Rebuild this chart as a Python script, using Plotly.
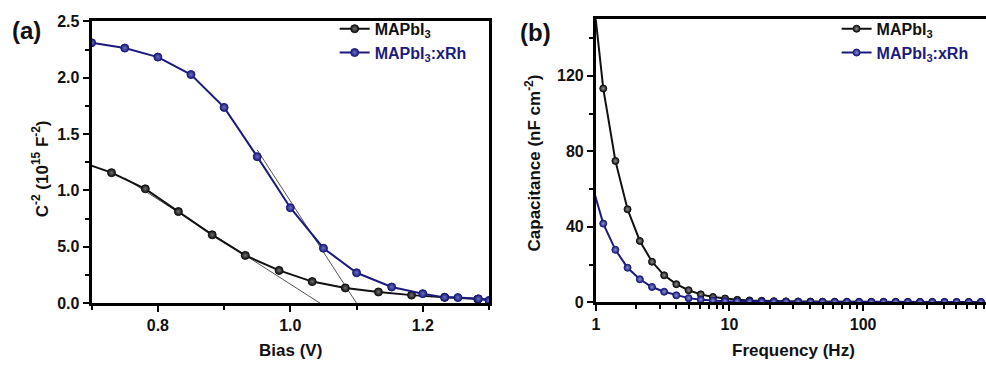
import plotly.graph_objects as go

# ---------------- data: panel (a) Mott-Schottky ----------------
bias_pristine = [0.680, 0.730, 0.781, 0.831, 0.882, 0.932, 0.983, 1.033, 1.083, 1.133, 1.183, 1.233, 1.283, 1.333]
c2_pristine = [1.26, 1.158, 1.015, 0.813, 0.607, 0.424, 0.291, 0.192, 0.136, 0.100, 0.072, 0.052, 0.036, 0.026]

bias_rh = [0.70, 0.75, 0.80, 0.85, 0.90, 0.95, 1.00, 1.05, 1.10, 1.153, 1.20, 1.233, 1.253, 1.284, 1.30]
c2_rh = [2.31, 2.263, 2.183, 2.028, 1.737, 1.300, 0.847, 0.488, 0.270, 0.144, 0.085, 0.052, 0.050, 0.039, 0.025]

# tangent (linear fit) lines
tan_pristine_x = [0.75, 1.045]
tan_pristine_y = [1.11, 0.0]
tan_rh_x = [0.95, 1.10]
tan_rh_y = [1.36, 0.0]

a_yticks = [0, 0.5, 1.0, 1.5, 2.0, 2.5]
a_yticktext = ["0.0", "5.0", "1.0", "1.5", "2.0", "2.5"]

# ---------------- data: panel (b) capacitance vs frequency ----------------
freq = [0.92, 1.135, 1.400, 1.726, 2.133, 2.630, 3.243, 4.000, 4.943, 6.095, 7.516, 9.268,
        11.43, 14.13, 17.42, 21.48, 26.49, 32.66, 40.36, 49.77, 61.38, 75.68, 93.33,
        115.3, 142.2, 175.4, 216.3, 266.7, 329.6, 406.4, 501.2, 618.0, 762.1]
cap_pristine = [173, 113.3, 74.9, 49.3, 32.5, 21.5, 14.3, 9.6, 6.4, 4.2, 2.8, 2.0,
                1.3, 1.0, 0.8, 0.6, 0.5, 0.45, 0.4, 0.35, 0.32, 0.3, 0.28,
                0.26, 0.25, 0.24, 0.23, 0.22, 0.21, 0.2, 0.2, 0.19, 0.18]
cap_rh = [64, 41.7, 27.8, 18.3, 12.2, 8.1, 5.6, 3.7, 2.2, 1.4, 0.9, 0.6,
          0.45, 0.35, 0.3, 0.25, 0.22, 0.2, 0.18, 0.17, 0.16, 0.15, 0.14,
          0.13, 0.12, 0.12, 0.11, 0.11, 0.1, 0.1, 0.1, 0.1, 0.1]

b_yticks = [0, 40, 80, 120]
b_xticks = [1, 10, 100]
b_xminor = [2, 3, 4, 5, 6, 7, 8, 9, 20, 30, 40, 50, 60, 70, 80, 90, 200, 300, 400, 500, 600, 700, 800, 900]

# ---------------- style ----------------
W, H = 986, 374
FONT = "Liberation Sans, Arial, sans-serif"
BLACK = "#111111"
NAVY = "#1b1b7e"
GREY = "#555555"


def px_x(p):
    return p / W


def px_y(p):
    return 1 - p / H


def marker(col, hi, size):
    return dict(symbol="circle", size=size, color=col,
                line=dict(color=col, width=1),
                gradient=dict(type="radial", color=hi))


fig = go.Figure()

# tangents (under data)
fig.add_trace(go.Scatter(x=tan_pristine_x, y=tan_pristine_y, mode="lines",
                         line=dict(color=GREY, width=1), showlegend=False,
                         xaxis="x", yaxis="y"))
fig.add_trace(go.Scatter(x=tan_rh_x, y=tan_rh_y, mode="lines",
                         line=dict(color=GREY, width=1), showlegend=False,
                         xaxis="x", yaxis="y"))

# panel (a)
fig.add_trace(go.Scatter(x=bias_pristine, y=c2_pristine, mode="lines+markers",
                         name="MAPbI<sub>3</sub>",
                         line=dict(color=BLACK, width=2), marker=marker(BLACK, "#707070", 8),
                         xaxis="x", yaxis="y", legend="legend"))
fig.add_trace(go.Scatter(x=bias_rh, y=c2_rh, mode="lines+markers",
                         name="<span style='color:%s'>MAPbI<sub>3</sub>:xRh</span>" % NAVY,
                         line=dict(color=NAVY, width=2), marker=marker(NAVY, "#6a70c0", 8),
                         xaxis="x", yaxis="y", legend="legend"))

# panel (b)
fig.add_trace(go.Scatter(x=freq, y=cap_pristine, mode="lines+markers",
                         name="MAPbI<sub>3</sub>",
                         line=dict(color=BLACK, width=2), marker=marker(BLACK, "#909090", 7),
                         xaxis="x2", yaxis="y2", legend="legend2"))
fig.add_trace(go.Scatter(x=freq, y=cap_rh, mode="lines+markers",
                         name="<span style='color:%s'>MAPbI<sub>3</sub>:xRh</span>" % NAVY,
                         line=dict(color=NAVY, width=2), marker=marker(NAVY, "#8a90d0", 7),
                         xaxis="x2", yaxis="y2", legend="legend2"))

tickfont = dict(family=FONT, size=16, color=BLACK, weight="bold")
axis_common = dict(showline=True, linecolor="black", linewidth=3, ticks="outside",
                   ticklen=6, tickwidth=2, tickcolor="black", showgrid=False,
                   zeroline=False, tickfont=tickfont)

fig.update_layout(
    width=W, height=H,
    margin=dict(l=0, r=0, t=0, b=0),
    paper_bgcolor="white", plot_bgcolor="white",
    font=dict(family=FONT, color=BLACK),
    xaxis=dict(domain=[px_x(88), px_x(487)], anchor="y", range=[0.7, 1.3],
               tick0=0, dtick=0.2, tickformat=".1f", mirror=True,
               minor=dict(ticks="outside", ticklen=4, tickwidth=2, tickcolor="black", dtick=0.1, tick0=0),
               **axis_common),
    yaxis=dict(domain=[px_y(309.3), px_y(14)], anchor="x", range=[0, 2.5],
               tickvals=a_yticks, ticktext=a_yticktext, mirror=True,
               minor=dict(ticks="outside", ticklen=4, tickwidth=2, tickcolor="black", dtick=0.25, tick0=0),
               **axis_common),
    xaxis2=dict(domain=[px_x(594.3), 1.0], anchor="y2", type="log", range=[0, 2.92],
                tickvals=b_xticks, ticktext=[str(v) for v in b_xticks], mirror=True,
                minor=dict(ticks="outside", ticklen=4, tickwidth=2, tickcolor="black", tickvals=b_xminor),
                **axis_common),
    yaxis2=dict(domain=[px_y(308.3), px_y(11.7)], anchor="x2", range=[0, 150],
                tickvals=b_yticks, mirror=False,
                minor=dict(ticks="outside", ticklen=4, tickwidth=2, tickcolor="black", dtick=20, tick0=0),
                **axis_common),
    legend=dict(x=px_x(332), y=px_y(4), xanchor="left", yanchor="top",
                bgcolor="rgba(0,0,0,0)", itemwidth=30, tracegroupgap=0,
                font=dict(family=FONT, size=16, color=BLACK, weight="bold")),
    legend2=dict(x=px_x(836), y=px_y(4), xanchor="left", yanchor="top",
                 bgcolor="rgba(0,0,0,0)", itemwidth=30, tracegroupgap=0,
                 font=dict(family=FONT, size=16, color=BLACK, weight="bold")),
)

ann_font = dict(family=FONT, size=17, color=BLACK, weight="bold")
annotations = [
    dict(text="(a)", x=px_x(6), y=px_y(24), xanchor="left", yanchor="middle",
         font=dict(family=FONT, size=24, color=BLACK, weight="bold")),
    dict(text="(b)", x=px_x(516), y=px_y(26), xanchor="left", yanchor="middle",
         font=dict(family=FONT, size=24, color=BLACK, weight="bold")),
    dict(text="Bias (V)", x=px_x(288), y=px_y(359), xanchor="center", yanchor="middle", font=ann_font),
    dict(text="Frequency (Hz)", x=px_x(793), y=px_y(359), xanchor="center", yanchor="middle", font=ann_font),
    dict(text="C<sup>-2</sup> (10<sup>15</sup> F<sup>-2</sup>)", x=px_x(37), y=px_y(168),
         xanchor="center", yanchor="middle", textangle=-90, font=ann_font),
    dict(text="Capacitance (nF cm<sup>-2</sup>)", x=px_x(531), y=px_y(162),
         xanchor="center", yanchor="middle", textangle=-90, font=ann_font),
]
for a in annotations:
    a.update(xref="paper", yref="paper", showarrow=False)
fig.update_layout(annotations=annotations)

fig.write_html("out.html")
